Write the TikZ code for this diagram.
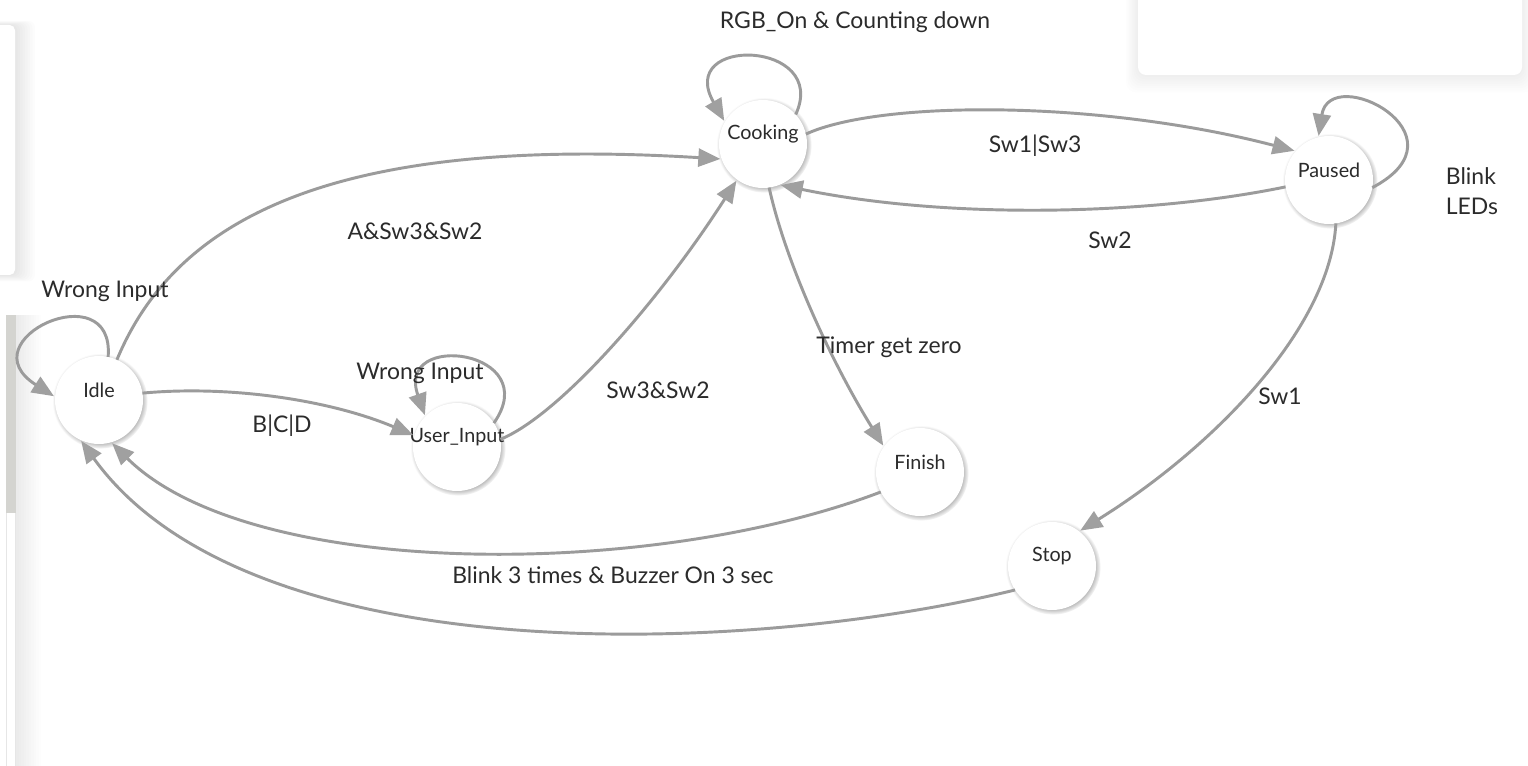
\documentclass[tikz,border=0pt]{standalone}
\usepackage{fontspec}
\setmainfont{Lato}
\usetikzlibrary{arrows.meta,shadows}
\definecolor{edgegray}{HTML}{9B9B9B}
\definecolor{tipgray}{HTML}{A0A0A0}
\definecolor{txt}{HTML}{2B2B2B}
\definecolor{scrollc}{HTML}{D4D4D0}
\definecolor{paneledge}{HTML}{E6E6E6}
\begin{document}
\begin{tikzpicture}[x=0.75pt,y=-0.75pt,
  state/.style={circle,fill=white,minimum size=66pt,inner sep=0pt,outer sep=0pt,
    circular drop shadow={shadow scale=1.08,shadow xshift=0.8pt,shadow yshift=-0.8pt,opacity=0.65}},
  stxt/.style={font=\fontsize{14.8}{17}\selectfont,text=txt,inner sep=0pt,yshift=7.5pt},
  lbl/.style={font=\fontsize{17.2}{22}\selectfont,text=txt,inner sep=0pt},
  tr/.style={draw=edgegray,line width=2.2pt,
    -{Triangle[length=16.5pt,width=13.5pt,color=tipgray,fill=tipgray]},shorten >=1pt}
]
\useasboundingbox (0,0) rectangle (1528,766);
\fill[white] (0,0) rectangle (1528,766);

% --- screenshot artefacts: side panel, scroll bar, top-right box
\foreach \i in {1,...,8}{
  \fill[black,opacity=0.010,rounded corners=5pt] (-20,{25-\i*0.5}) rectangle ({15+\i*2.5},{275+\i*0.8});
  \fill[black,opacity=0.008,rounded corners=8pt] ({1138-\i*1.5},-10) rectangle ({1522+\i*1.5},{75+\i*2.2});
}
\fill[white,rounded corners=4pt] (-20,25) rectangle (15,275);
\fill[white,rounded corners=6pt] (1138,-10) rectangle (1522,75);
\foreach \i in {1,...,10}{
  \fill[black,opacity=0.008] (16,315) rectangle ({16+\i*2.5},766);
}
\fill[white] (0,315) rectangle (16,766);
\fill[scrollc] (6,315) rectangle (16,513);
\draw[paneledge,line width=0.8pt] (6.5,513) -- (6.5,766) (15.5,513) -- (15.5,766);

% --- states
\node[state,label={[stxt]center:Idle}] (idle) at (99,400) {};
\node[state,label={[stxt]center:User\_Input}] (user) at (457,447) {};
\node[state,label={[stxt]center:Cooking}] (cook) at (763,144) {};
\node[state,label={[stxt]center:Paused}] (paused) at (1329,180) {};
\node[state,label={[stxt]center:Finish}] (finish) at (920,472) {};
\node[state,label={[stxt]center:Stop}] (stop) at (1052,566) {};

% --- transitions
\draw[tr] (idle.78) .. controls (115,272) and (-35,340) .. (idle.176);
\draw[tr] (idle.66) .. controls (175,220) and (330,135) .. (cook.200);
\draw[tr] (idle.9) .. controls (230,385) and (330,400) .. (user.165);
\draw[tr] (user.33) .. controls (545,350) and (395,330) .. (user.136);
\draw[tr] (user.10) .. controls (560,415) and (660,300) .. (cook.234);
\draw[tr] (cook.42) .. controls (830,40) and (675,35) .. (cook.150);
\draw[tr] (cook.13) .. controls (880,100) and (1100,100) .. (paused.139);
\draw[tr] (paused.189) .. controls (1150,215) and (950,220) .. (cook.292);
\draw[tr] (paused.350) .. controls (1472,135) and (1330,62) .. (paused.104);
\draw[tr] (cook.278) .. controls (785,260) and (830,360) .. (finish.145);
\draw[tr] (paused.279) .. controls (1330,330) and (1210,450) .. (stop.52);
\draw[tr] (finish.207) .. controls (650,580) and (250,580) .. (idle.286);
\draw[tr] (stop.213) .. controls (750,655) and (250,675) .. (idle.245);

% --- transition labels
\node[lbl] (lwi1) at (105,291) {Wrong Input};
\node[lbl] (lasw) at (415,231) {A\&Sw3\&Sw2};
\node[lbl] (lbcd) at (282,426) {B|C|D};
\node[lbl] (lwi2) at (420,373) {Wrong Input};
\node[lbl] (lsw32) at (658,390) {Sw3\&Sw2};
\node[lbl] (lrgb) at (855,22) {RGB\_On \& Counting down};
\node[lbl] (lsw13) at (1035,146) {Sw1|Sw3};
\node[lbl] (lsw2) at (1110,240) {Sw2};
\node[lbl,align=left] (lblink) at (1472,191) {Blink\\LEDs};
\node[lbl] (ltimer) at (889,347) {Timer get zero};
\node[lbl] (lsw1) at (1280,396) {Sw1};
\node[lbl] (lbuzz) at (613,575) {Blink 3 times \& Buzzer On 3 sec};
\end{tikzpicture}
\end{document}
